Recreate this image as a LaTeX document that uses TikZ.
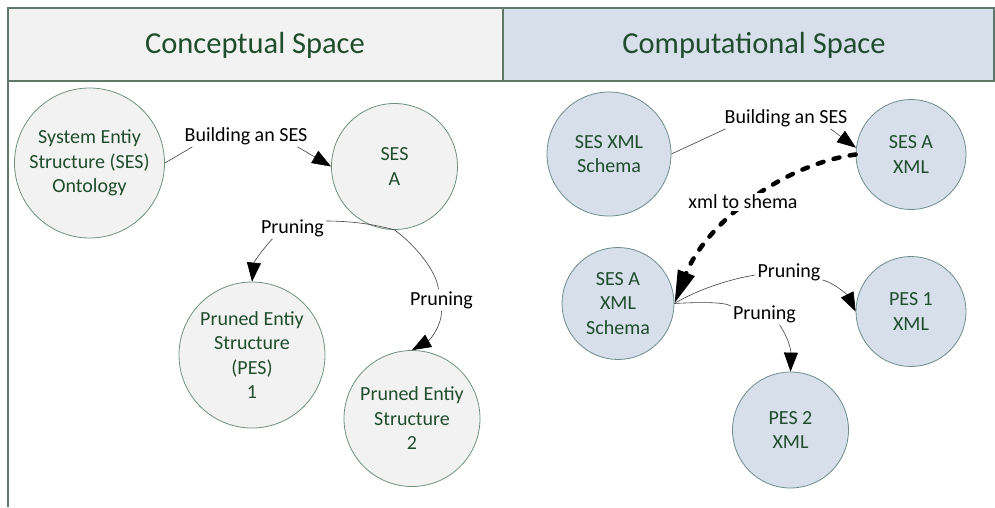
\documentclass[tikz,border=0pt]{standalone}
\usepackage{fontspec}
\setmainfont{Carlito}
\usetikzlibrary{arrows.meta}
\definecolor{tgreen}{RGB}{31,77,45}
\definecolor{lstroke}{RGB}{110,145,125}
\definecolor{rstroke}{RGB}{110,140,140}
\definecolor{lfill}{RGB}{242,242,242}
\definecolor{rfill}{RGB}{214,223,234}
\definecolor{hborder}{RGB}{95,120,105}
\tikzset{
  lcirc/.style={circle, draw=lstroke, fill=lfill, line width=0.8pt, inner sep=0pt, align=center, text=tgreen, font=\fontsize{20}{24.5}\selectfont},
  rcirc/.style={circle, draw=rstroke, fill=rfill, line width=0.8pt, inner sep=0pt, align=center, text=tgreen, font=\fontsize{20}{24.5}\selectfont},
  lbl/.style={inner sep=2pt, text=black, font=\fontsize{20}{24}\selectfont},
  conn/.style={draw=black!75, line width=0.6pt},
  arrowed/.style={conn, -{Triangle[length=19pt,width=14pt,color=black]}},
  bigdash/.style={draw=black, line width=4.5pt, line cap=round, dash pattern=on 6pt off 10.5pt, -{Triangle[length=33pt,width=17pt,line cap=butt]}},
  hdr/.style={text=tgreen, font=\fontsize{30.5}{36}\selectfont},
}
\begin{document}
\begin{tikzpicture}[x=1pt,y=-1pt]
\useasboundingbox (0,0) rectangle (995,507);
% headers
\draw[hborder, line width=1.5pt, fill=lfill] (8,8) rectangle (503,81);
\draw[hborder, line width=1.5pt, fill=rfill] (503,8) rectangle (994,81);
\draw[hborder, line width=1.5pt] (8,81) -- (8,507);
\node[hdr] (hl) at (255,45) {Conceptual Space};
\node[hdr] (hr) at (754,45) {Computational Space};
% left circles
\node[lcirc, minimum size=150pt] (ont) at (89.5,163) {System Entiy\\Structure (SES)\\Ontology};
\node[lcirc, minimum size=126pt] (sesA) at (394.5,166.5) {SES\\A};
\node[lcirc, minimum size=146pt] (pes1) at (252,355) {Pruned Entiy\\Structure\\(PES)\\1};
\node[lcirc, minimum size=136pt] (pes2) at (412,418.5) {Pruned Entiy\\Structure\\2};
% right circles
\node[rcirc, minimum size=124pt] (sxs) at (609,154) {SES XML\\Schema};
\node[rcirc, minimum size=110pt] (sax) at (911,154.5) {SES A\\XML};
\node[rcirc, minimum size=112pt] (saxs) at (618,303.5) {SES A\\XML\\Schema};
\node[rcirc, minimum size=110pt] (p1x) at (911,311.5) {PES 1\\XML};
\node[rcirc, minimum size=116pt] (p2x) at (790.5,430) {PES 2\\XML};
% labels
\node[lbl] (l1) at (246,136) {Building an SES};
\node[lbl] (l2) at (292.5,228) {Pruning};
\node[lbl] (l3) at (441.5,300) {Pruning};
\node[lbl] (l4) at (786,118) {Building an SES};
\node[lbl] (l6) at (789,272) {Pruning};
\node[lbl] (l7) at (764.5,314) {Pruning};
% left connectors
\draw[conn] (ont.east) -- ([xshift=10pt]l1.south west);
\draw[arrowed] ([xshift=-12pt]l1.south east) -- (sesA.west);
\draw[conn] (sesA.south) .. controls (370,223) and (345,221) .. ([yshift=7pt]l2.east);
\draw[arrowed] ([xshift=-20pt]l2.south) .. controls (262,250) and (254,262) .. (pes1.north);
\draw[conn] (sesA.south) .. controls (415,245) and (436,270) .. ([xshift=-3pt]l3.north);
\draw[arrowed] (l3.south) .. controls (442,325) and (430,340) .. (pes2.north);
% right connectors
\draw[conn] (sxs.east) -- ([xshift=3pt]l4.south west);
\draw[arrowed] ([xshift=-19pt]l4.south east) -- (sax.173);
\draw[bigdash] (sax.west) .. controls (780,165) and (705,225) .. (saxs.east);
\node[lbl, fill=white] (l5) at (743,202) {xml to shema};
\draw[conn] (saxs.east) .. controls (700,288) and (735,278) .. ([yshift=-3pt]l6.west);
\draw[arrowed] ([yshift=-8pt]l6.east) .. controls (835,283) and (848,296) .. (p1x.west);
\draw[conn] (saxs.east) .. controls (700,302) and (725,302) .. ([yshift=8pt]l7.west);
\draw[arrowed] ([xshift=15pt]l7.south) .. controls (788,337) and (791,350) .. (p2x.north);
\end{tikzpicture}
\end{document}
